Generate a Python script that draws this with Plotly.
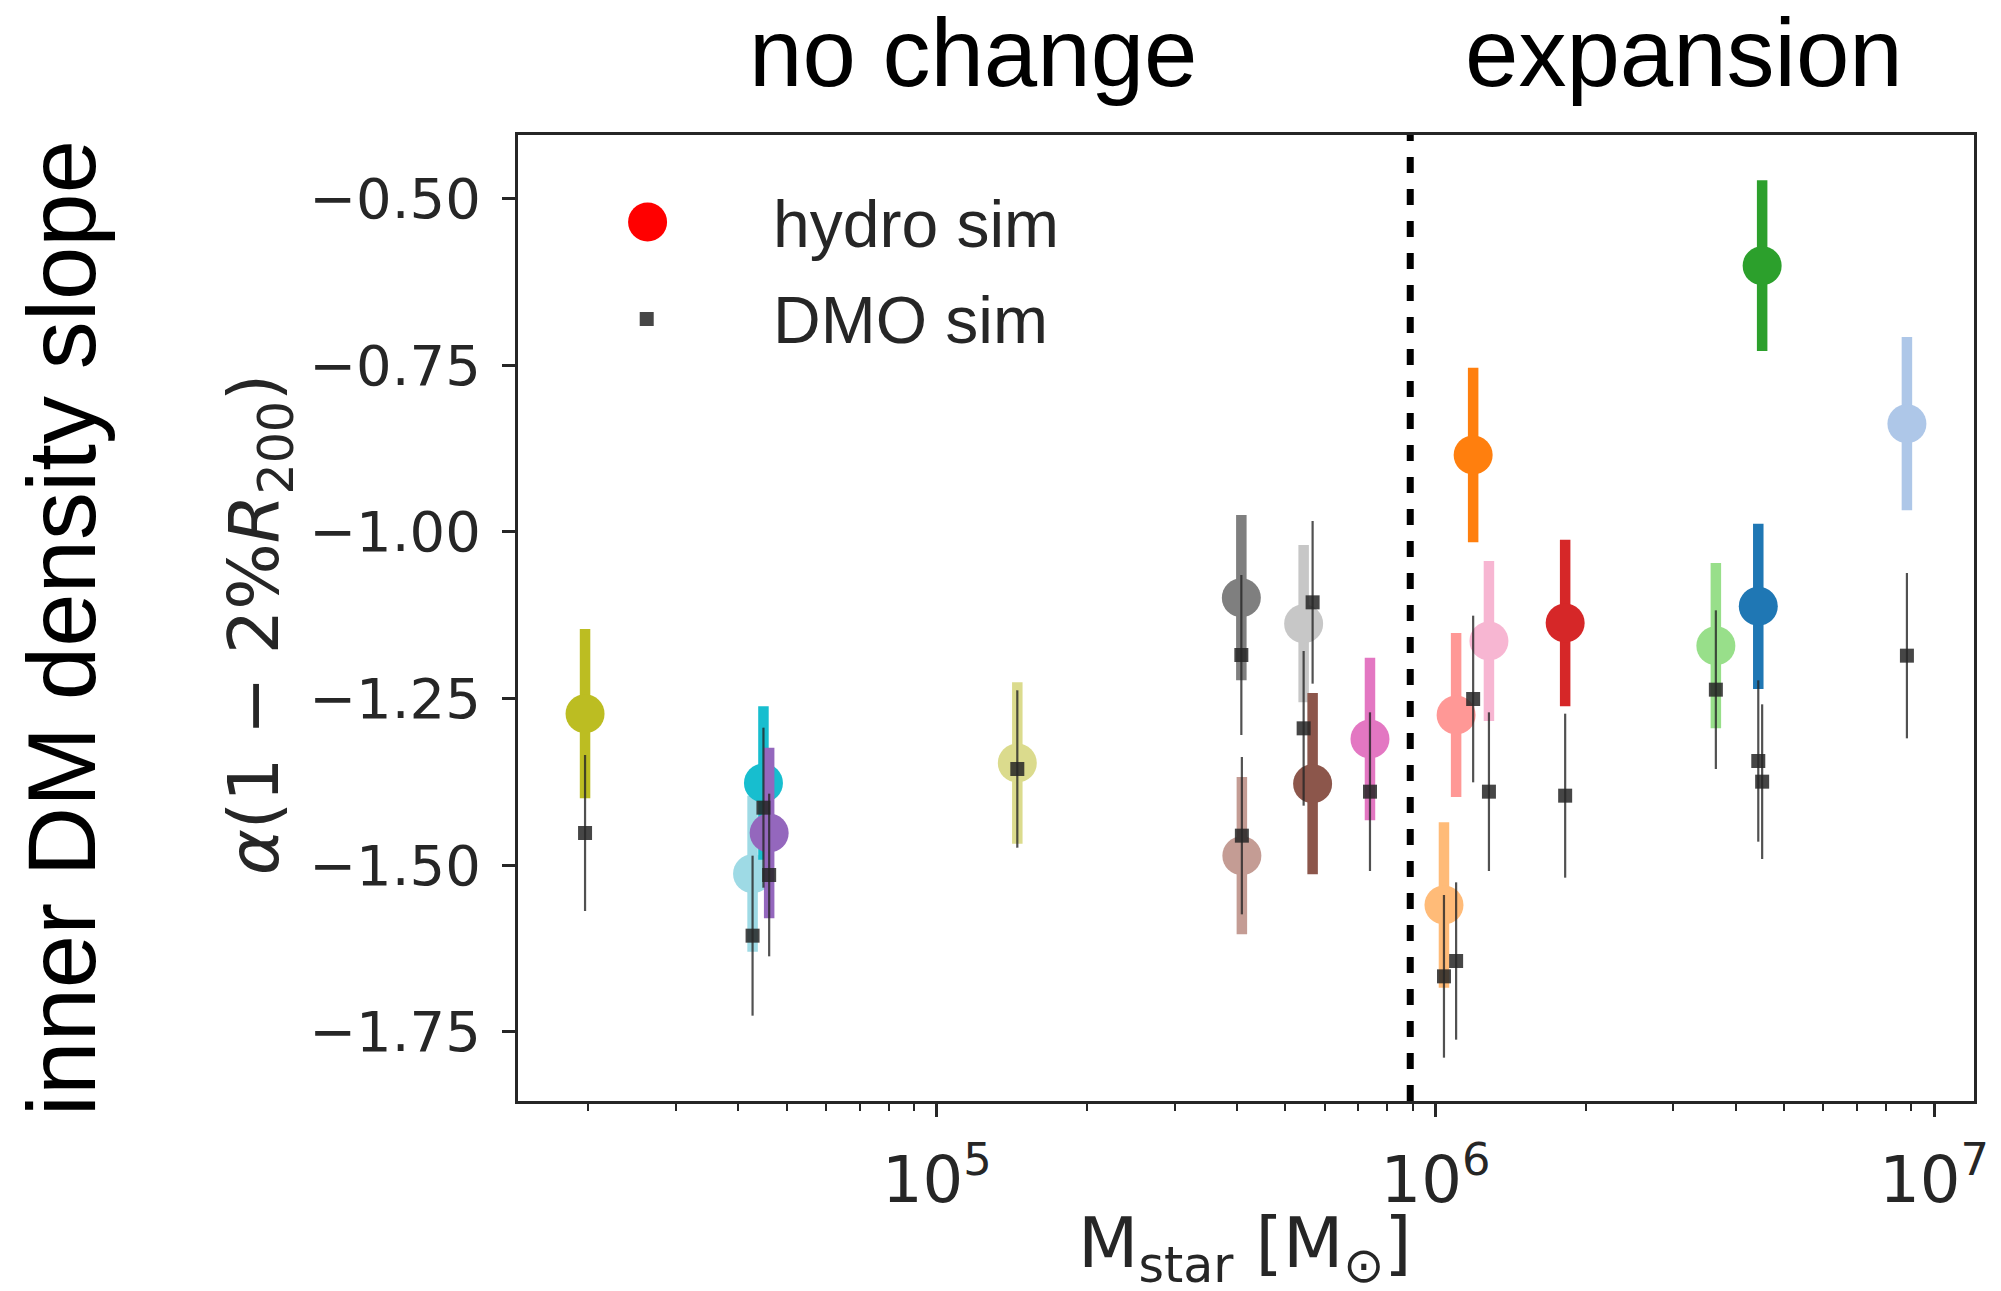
import plotly.graph_objects as go

# ---------------- data ----------------
mstar = [1.97e4, 4.27e4, 4.49e4, 4.61e4, 1.45e5, 4.08e5, 4.09e5, 5.44e5, 5.67e5, 7.39e5,
         1.04e6, 1.10e6, 1.19e6, 1.28e6, 1.82e6, 3.65e6, 4.44e6, 4.52e6, 8.82e6]
colors = ['#bcbd22', '#9edae5', '#17becf', '#9467bd', '#dbdb8d', '#7f7f7f', '#c49c94',
          '#c7c7c7', '#8c564b', '#e377c2', '#ffbb78', '#ff9896', '#ff7f0e', '#f7b6d2',
          '#d62728', '#98df8a', '#1f77b4', '#2ca02c', '#aec7e8']
hydro_slope = [-1.273, -1.513, -1.377, -1.452, -1.347, -1.099, -1.486, -1.138, -1.378, -1.311,
               -1.560, -1.275, -0.885, -1.164, -1.137, -1.171, -1.112, -0.601, -0.838]
hydro_err = [0.127, 0.117, 0.115, 0.128, 0.121, 0.124, 0.118, 0.118, 0.136, 0.122,
             0.124, 0.123, 0.131, 0.120, 0.125, 0.124, 0.124, 0.128, 0.130]
dmo_slope = [-1.452, -1.606, -1.414, -1.515, -1.356, -1.185, -1.456, -1.295, -1.106, -1.390,
             -1.667, -1.644, -1.251, -1.390, -1.396, -1.237, -1.344, -1.375, -1.186]
dmo_err = [0.117, 0.120, 0.120, 0.122, 0.118, 0.120, 0.118, 0.116, 0.122, 0.119,
           0.122, 0.118, 0.125, 0.119, 0.123, 0.119, 0.121, 0.116, 0.124]
divider_mstar = 8.9e5

y_tickvals = [-1.75, -1.50, -1.25, -1.00, -0.75, -0.50]
y_ticktext = ['\u22121.75', '\u22121.50', '\u22121.25', '\u22121.00', '\u22120.75', '\u22120.50']
x_tickvals = [1e5, 1e6, 1e7]
x_ticktext = ['10<sup>5</sup>', '10<sup>6</sup>', '10<sup>7</sup>']
x_minor = [m * 10 ** k for k in (4, 5, 6) for m in range(2, 10)]

legend_labels = ['hydro sim', 'DMO sim']

# ---------------- style ----------------
INK = '#262626'
DMO_MARK = 'rgba(38,38,38,0.85)'
DMO_LINE = 'rgba(38,38,38,0.8)'

fig = go.Figure()

# divider line spanning full plot height (y on hidden [0,1] axis)
fig.add_trace(go.Scatter(
    x=[divider_mstar, divider_mstar], y=[0, 1], xaxis='x', yaxis='y2',
    mode='lines', line=dict(color='black', width=7, dash='16px,16px'),
    showlegend=False, hoverinfo='skip'))

# hydro points, one trace each (own colour for error bar)
for m, v, e, c in zip(mstar, hydro_slope, hydro_err, colors):
    fig.add_trace(go.Scatter(
        x=[m], y=[v], mode='markers',
        marker=dict(size=39, color=c, line=dict(width=0)),
        error_y=dict(type='data', array=[e], symmetric=True, thickness=10.5, width=0, color=c),
        showlegend=False, hoverinfo='skip'))

# DMO points
fig.add_trace(go.Scatter(
    x=mstar, y=dmo_slope, mode='markers',
    marker=dict(symbol='square', size=14, color=DMO_MARK, line=dict(width=0)),
    error_y=dict(type='data', array=dmo_err, symmetric=True, thickness=2.2, width=0, color=DMO_LINE),
    showlegend=False, hoverinfo='skip'))

# legend keys (on hidden [0,1] overlay axes)
fig.add_trace(go.Scatter(
    x=[0.089], y=[0.910], xaxis='x2', yaxis='y2', mode='markers',
    marker=dict(size=39, color='#ff0000', line=dict(width=0)),
    showlegend=False, hoverinfo='skip', cliponaxis=False))
fig.add_trace(go.Scatter(
    x=[0.0884], y=[0.8095], xaxis='x2', yaxis='y2', mode='markers',
    marker=dict(symbol='square', size=14, color=DMO_MARK, line=dict(width=0)),
    showlegend=False, hoverinfo='skip', cliponaxis=False))

annotations = [
    dict(text=legend_labels[0], x=0.174, y=0.9079, xref='paper', yref='paper',
         xanchor='left', yanchor='middle', showarrow=False,
         font=dict(family='Liberation Sans', size=66, color=INK)),
    dict(text=legend_labels[1], x=0.174, y=0.8085, xref='paper', yref='paper',
         xanchor='left', yanchor='middle', showarrow=False,
         font=dict(family='Liberation Sans', size=66, color=INK)),
    dict(text='no change', x=0.3123, y=1.085, xref='paper', yref='paper',
         xanchor='center', yanchor='middle', showarrow=False,
         font=dict(family='Liberation Sans', size=96, color='black')),
    dict(text='expansion', x=0.8007, y=1.085, xref='paper', yref='paper',
         xanchor='center', yanchor='middle', showarrow=False,
         font=dict(family='Liberation Sans', size=96, color='black')),
    dict(text='inner DM density slope', x=-0.3137, y=0.4896, xref='paper', yref='paper',
         xanchor='center', yanchor='middle', showarrow=False, textangle=-90,
         font=dict(family='Liberation Sans', size=96, color='black')),
    dict(text='<i>\u03b1</i>(1 \u2212 2%<i>R</i><sub>200</sub>)', x=-0.1777, y=0.4937,
         xref='paper', yref='paper', xanchor='center', yanchor='middle', showarrow=False,
         textangle=-90, font=dict(family='DejaVu Sans', size=70, color=INK)),
    dict(text='M<sub>star</sub> [M<sub>\u2299</sub>]', x=0.4993, y=-0.152,
         xref='paper', yref='paper', xanchor='center', yanchor='middle', showarrow=False,
         font=dict(family='DejaVu Sans', size=70, color=INK)),
]

fig.update_layout(
    width=2001, height=1291,
    margin=dict(l=518, r=23, t=135, b=190, pad=0),
    paper_bgcolor='white', plot_bgcolor='white',
    showlegend=False,
    xaxis=dict(type='log', range=[4.16, 7.08], tickmode='array', tickvals=x_tickvals,
               ticktext=x_ticktext, ticks='outside', ticklen=13, tickwidth=2.5,
               tickcolor=INK, showline=True, linewidth=3, linecolor=INK, mirror=True,
               showgrid=False, zeroline=False,
               tickfont=dict(family='DejaVu Sans', size=64, color=INK), ticklabelstandoff=8,
               minor=dict(tickmode='array', tickvals=x_minor, ticks='outside', ticklen=7,
                          tickwidth=1.5, tickcolor=INK, showgrid=False)),
    yaxis=dict(range=[-1.854, -0.405], tickmode='array', tickvals=y_tickvals,
               ticktext=y_ticktext, ticks='outside', ticklen=13, tickwidth=2.5,
               tickcolor=INK, showline=True, linewidth=3, linecolor=INK, mirror=True,
               showgrid=False, zeroline=False,
               tickfont=dict(family='DejaVu Sans', size=56, color=INK), ticklabelstandoff=10),
    xaxis2=dict(overlaying='x', range=[0, 1], visible=False, fixedrange=True),
    yaxis2=dict(overlaying='y', range=[0, 1], visible=False, fixedrange=True),
    annotations=annotations,
)

fig.write_html('out.html')
